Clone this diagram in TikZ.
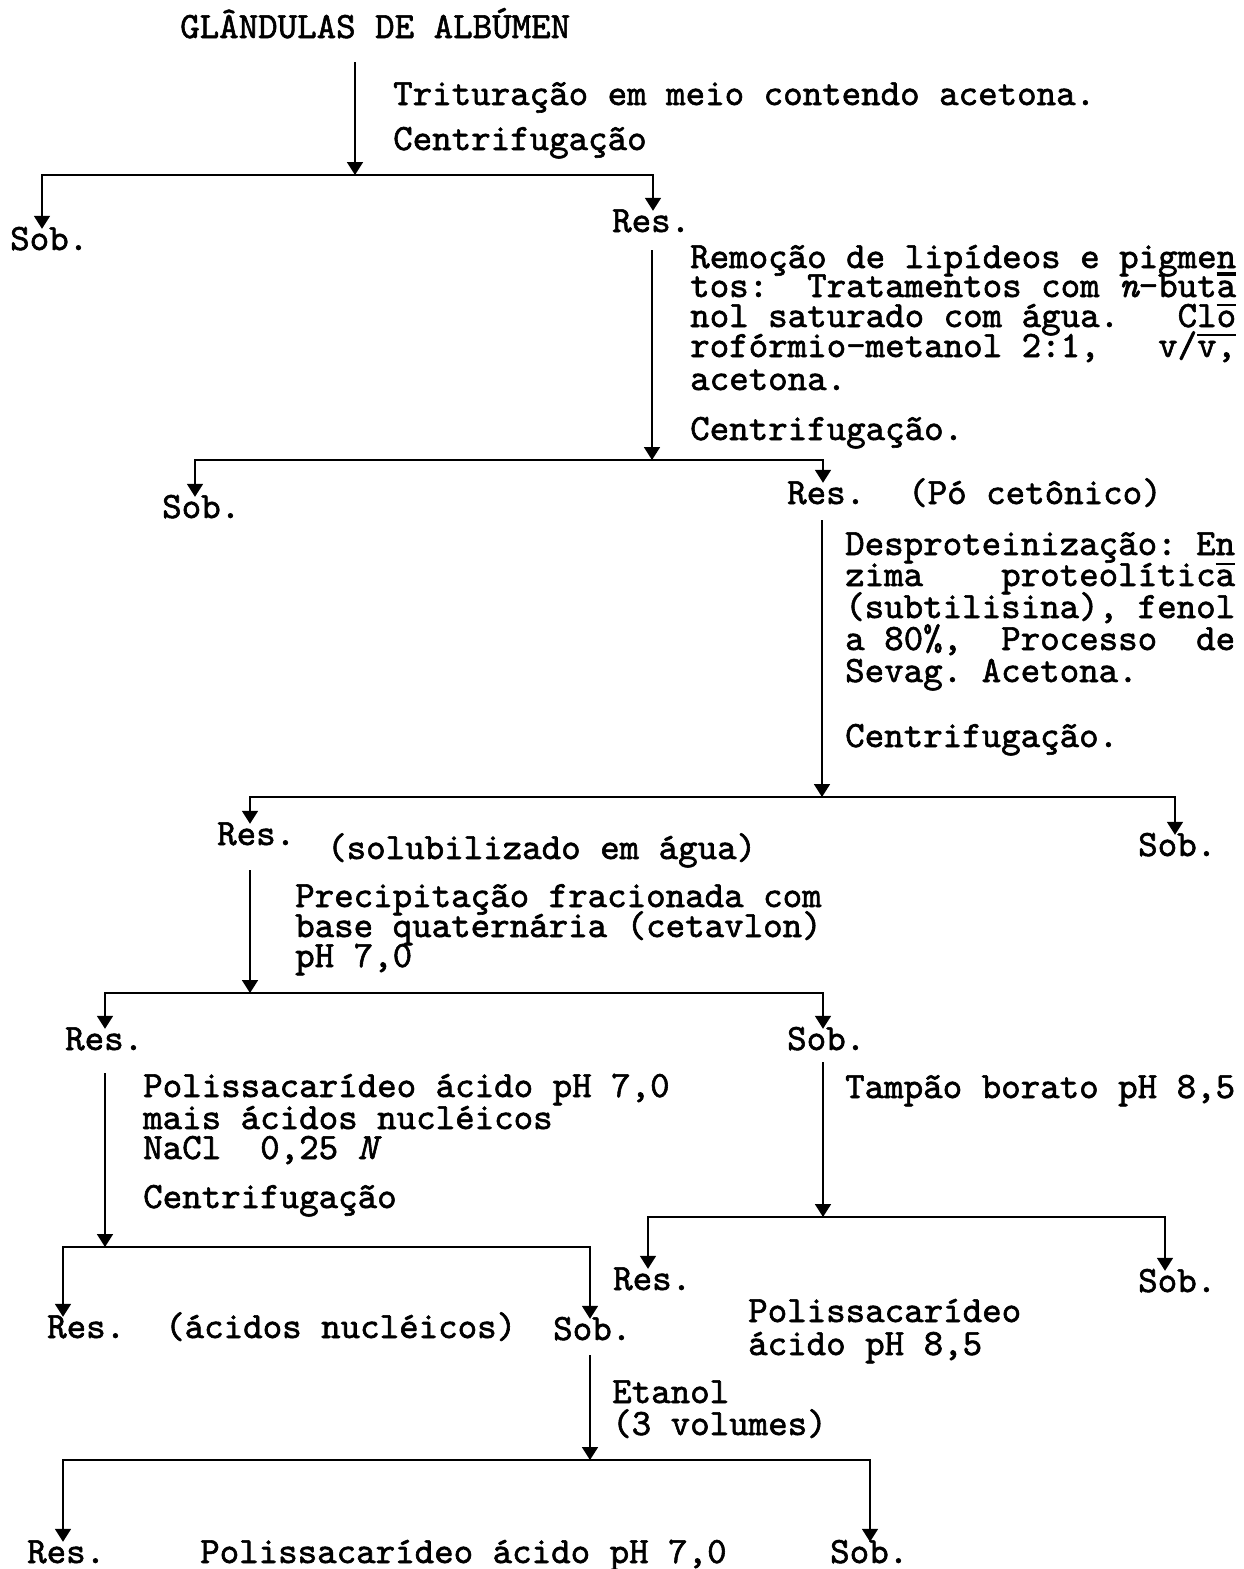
\documentclass[tikz,border=0pt]{standalone}
\usetikzlibrary{arrows.meta}
\font\twrm="[lmmono10-regular.otf]:embolden=1.6" at 37.14pt
\font\twit="[lmmono10-italic.otf]:embolden=1.6" at 37.14pt
\newcommand\ital[1]{{\twit #1}}
\newsavebox\hbbox
\newcommand\barover[1]{\sbox\hbbox{#1}\rlap{\raisebox{21pt}{\rule{\wd\hbbox}{1.8pt}}}\usebox\hbbox}
\newcommand\barunder[1]{\sbox\hbbox{#1}\rlap{\raisebox{-6pt}{\rule{\wd\hbbox}{1.8pt}}}\usebox\hbbox}
\begin{document}
\frenchspacing
\begin{tikzpicture}[x=1pt,y=-1pt,
  txt/.style={anchor=base west,inner sep=0pt,text height=21pt,text depth=5pt,font=\twrm},
  ln/.style={line width=1.8pt,line cap=rect},
  arr/.style={line width=1.8pt,-{Triangle[width=16pt,length=13pt]}}]
\useasboundingbox (0,0) rectangle (1243,1569);

% ---- level 1
\node[txt] (title) at (180,38) {GLÂNDULAS DE ALBÚMEN};
\node[txt] (t1a) at (393,105) {Trituração em meio contendo acetona.};
\node[txt] (t1b) at (393,150) {Centrifugação};
\node[txt] (sob1) at (10,250) {Sob.};
\node[txt] (res1) at (612,232) {Res.};
\coordinate (s1) at (355,62); \coordinate (j1) at (355,175);
\coordinate (b1l) at (42,175); \coordinate (b1r) at (653,175);
\draw[ln] (b1l) -- (b1r);
\draw[arr] (s1) -- (j1);
\draw[arr] (b1l) -- (b1l |- sob1.north);
\draw[arr] (b1r) -- (b1r |- res1.north);

% ---- level 2
\node[txt] (t2a) at (690,268) {Remoção de lipídeos e pigme\barunder{n}};
\node[txt] (t2b) at (690,297) {tos:~~Tratamentos com \ital{n}-but\barover{a}};
\node[txt] (t2c) at (690,327) {nol saturado com água.~~~Cl\barover{o}};
\node[txt] (t2d) at (690,357) {rofórmio-metanol 2:1,~~~v/\barover{v,}};
\node[txt] (t2e) at (690,390) {acetona.};
\node[txt] (t2f) at (690,440) {Centrifugação.};
\node[txt] (sob2) at (162,518) {Sob.};
\node[txt] (res2) at (787,504) {Res.};
\node[txt] (po) at (908,504) {(Pó cetônico)};
\coordinate (s2) at (652,250); \coordinate (j2) at (652,460);
\coordinate (b2l) at (195,460); \coordinate (b2r) at (823,460);
\draw[ln] (b2l) -- (b2r);
\draw[arr] (s2) -- (j2);
\draw[arr] (b2l) -- (b2l |- sob2.north);
\draw[arr] (b2r) -- (b2r |- res2.north);

% ---- level 3
\node[txt] (t3a) at (845,555) {Desproteinização: En};
\node[txt] (t3b) at (845,586) {zima~~~~proteolític\barover{a}};
\node[txt] (t3c) at (845,618) {(subtilisina), fenol};
\node[txt] (t3d) at (845,650) {a 80\%,~~Processo~~de};
\node[txt] (t3e) at (845,682) {Sevag. Acetona.};
\node[txt] (t3f) at (845,747) {Centrifugação.};
\node[txt] (res3) at (217,845) {Res.};
\node[txt] (solub) at (327,859) {(solubilizado em água)};
\node[txt] (sob3) at (1138,856) {Sob.};
\coordinate (s3) at (822,520); \coordinate (j3) at (822,797);
\coordinate (b3l) at (250,797); \coordinate (b3r) at (1175,797);
\draw[ln] (b3l) -- (b3r);
\draw[arr] (s3) -- (j3);
\draw[arr] (b3l) -- (b3l |- res3.north);
\draw[arr] (b3r) -- (b3r |- sob3.north);

% ---- level 4
\node[txt] (t4a) at (295,907) {Precipitação fracionada com};
\node[txt] (t4b) at (295,937) {base quaternária (cetavlon)};
\node[txt] (t4c) at (295,967) {pH 7,0};
\node[txt] (res4) at (65,1050) {Res.};
\node[txt] (sob4) at (787,1050) {Sob.};
\coordinate (s4) at (250,870); \coordinate (j4) at (250,993);
\coordinate (b4l) at (105,993); \coordinate (b4r) at (823,993);
\draw[ln] (b4l) -- (b4r);
\draw[arr] (s4) -- (j4);
\draw[arr] (b4l) -- (b4l |- res4.north);
\draw[arr] (b4r) -- (b4r |- sob4.north);

% ---- level 5 left
\node[txt] (t5a) at (143,1097) {Polissacarídeo ácido pH 7,0};
\node[txt] (t5b) at (143,1129) {mais ácidos nucléicos};
\node[txt] (t5c) at (143,1159) {NaCl~~0,25 \ital{N}};
\node[txt] (t5d) at (143,1208) {Centrifugação};
\node[txt] (res5) at (47,1338) {Res.};
\node[txt] (acn) at (165,1338) {(ácidos nucléicos)};
\node[txt] (sob5) at (553,1340) {Sob.};
\coordinate (s5) at (105,1073); \coordinate (j5) at (105,1247);
\coordinate (b5l) at (63,1247); \coordinate (b5r) at (590,1247);
\draw[ln] (b5l) -- (b5r);
\draw[arr] (s5) -- (j5);
\draw[arr] (b5l) -- (b5l |- res5.north);
\draw[arr] (b5r) -- (b5r |- sob5.north);

% ---- level 5 right
\node[txt] (t6a) at (845,1098) {Tampão borato pH 8,5};
\node[txt] (res6) at (613,1290) {Res.};
\node[txt] (sob6) at (1138,1292) {Sob.};
\node[txt] (p85a) at (748,1322) {Polissacarídeo};
\node[txt] (p85b) at (748,1355) {ácido pH 8,5};
\coordinate (s6) at (823,1062); \coordinate (j6) at (823,1217);
\coordinate (b6l) at (648,1217); \coordinate (b6r) at (1165,1217);
\draw[ln] (b6l) -- (b6r);
\draw[arr] (s6) -- (j6);
\draw[arr] (b6l) -- (b6l |- res6.north);
\draw[arr] (b6r) -- (b6r |- sob6.north);

% ---- level 6
\node[txt] (t7a) at (612,1403) {Etanol};
\node[txt] (t7b) at (612,1435) {(3 volumes)};
\node[txt] (res7) at (27,1563) {Res.};
\node[txt] (p70) at (200,1563) {Polissacarídeo ácido pH 7,0};
\node[txt] (sob7) at (830,1563) {Sob.};
\coordinate (s7) at (590,1355); \coordinate (j7) at (590,1460);
\coordinate (b7l) at (63,1460); \coordinate (b7r) at (870,1460);
\draw[ln] (b7l) -- (b7r);
\draw[arr] (s7) -- (j7);
\draw[arr] (b7l) -- (b7l |- res7.north);
\draw[arr] (b7r) -- (b7r |- sob7.north);
\end{tikzpicture}
\end{document}
